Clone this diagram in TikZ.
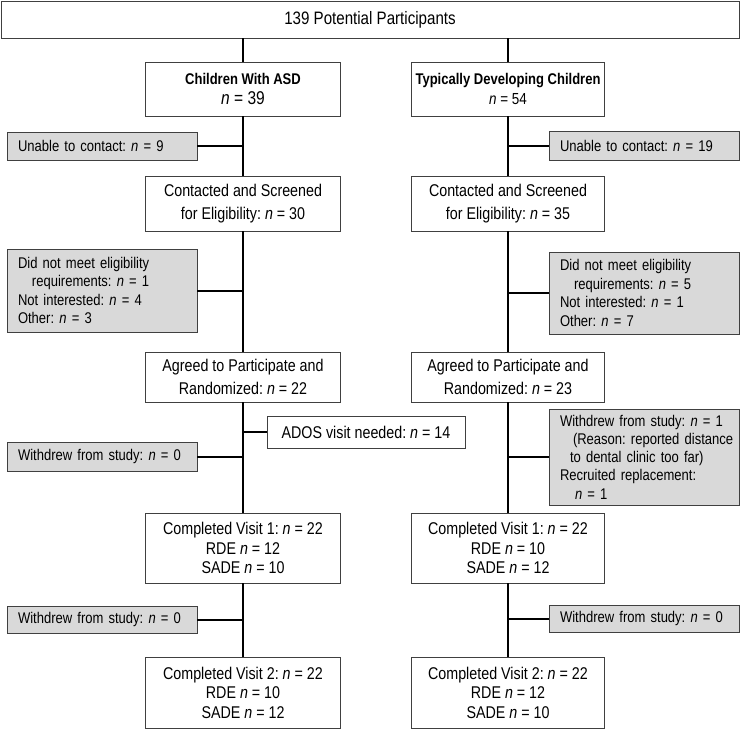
\documentclass[tikz,border=0pt]{standalone}
\usepackage{fontspec}
\setmainfont{Liberation Sans}[FakeStretch=0.84]
\begin{document}
\frenchspacing
\begin{tikzpicture}[x=1pt,y=-1pt,
  wbox/.style={draw=black!75, line width=0.9pt, fill=white, align=center, inner sep=0pt,
    minimum width=195pt, font=\fontsize{17}{22.7}\selectfont},
  gbox/.style={draw=black!75, line width=0.9pt, fill=black!15, align=left, inner xsep=11pt, inner ysep=0pt,
    text width=168pt, font=\fontsize{15.5}{18.6}\selectfont},
  conn/.style={line width=2pt}]
\useasboundingbox (0,0) rectangle (742,729);
% main boxes
\node[wbox, minimum width=738pt, minimum height=37pt, font=\fontsize{18}{20}\selectfont] (top) at (370,19.5) {139 Potential Participants};
\node[wbox, minimum height=54pt, font=\fontsize{16}{20.5}\selectfont] (asd) at (243,89)
  {{\bfseries\fontsize{15.5}{20.5}\selectfont Children With ASD}\\{\fontsize{18.5}{20.5}\selectfont\textit{n} = 39}};
\node[wbox, minimum width=193pt, minimum height=54pt, font=\fontsize{16}{20.5}\selectfont] (td) at (508,89)
  {{\bfseries\fontsize{15.5}{20.5}\selectfont Typically Developing Children}\\{\fontsize{16}{20.5}\selectfont\textit{n} = 54}};
\node[wbox, minimum height=55pt] (contL) at (243,203.5) {Contacted and Screened\\for Eligibility: \textit{n} = 30};
\node[wbox, minimum width=193pt, minimum height=55pt] (contR) at (508,203.5) {Contacted and Screened\\for Eligibility: \textit{n} = 35};
\node[wbox, minimum height=50pt] (agrL) at (243,377) {Agreed to Participate and\\Randomized: \textit{n} = 22};
\node[wbox, minimum width=193pt, minimum height=50pt] (agrR) at (508,377) {Agreed to Participate and\\Randomized: \textit{n} = 23};
\node[wbox, minimum height=70pt, font=\fontsize{17}{19.5}\selectfont] (cv1L) at (243,548) {Completed Visit 1: \textit{n} = 22\\RDE \textit{n} = 12\\SADE \textit{n} = 10};
\node[wbox, minimum width=193pt, minimum height=70pt, font=\fontsize{17}{19.5}\selectfont] (cv1R) at (508,548) {Completed Visit 1: \textit{n} = 22\\RDE \textit{n} = 10\\SADE \textit{n} = 12};
\node[wbox, minimum height=71pt, font=\fontsize{17}{19.5}\selectfont] (cv2L) at (243,692.5) {Completed Visit 2: \textit{n} = 22\\RDE \textit{n} = 10\\SADE \textit{n} = 12};
\node[wbox, minimum width=193pt, minimum height=71pt, font=\fontsize{17}{19.5}\selectfont] (cv2R) at (508,692.5) {Completed Visit 2: \textit{n} = 22\\RDE \textit{n} = 12\\SADE \textit{n} = 10};
\node[wbox, minimum width=198pt, minimum height=32pt] (ados) at (366,432) {ADOS visit needed: \textit{n} = 14};
% side boxes
\node[gbox, minimum height=28pt] (unL) at (102,146) {Unable to contact: \textit{n} = 9};
\node[gbox, minimum height=29pt] (unR) at (644,145.5) {Unable to contact: \textit{n} = 19};
\node[gbox, minimum height=83pt] (dnmL) at (102,290.5) {Did not meet eligibility\\\hspace*{14pt}requirements: \textit{n} = 1\\Not interested: \textit{n} = 4\\Other: \textit{n} = 3};
\node[gbox, minimum height=82pt] (dnmR) at (644,293) {Did not meet eligibility\\\hspace*{14pt}requirements: \textit{n} = 5\\Not interested: \textit{n} = 1\\Other: \textit{n} = 7};
\node[gbox, minimum height=29pt] (wdL1) at (102,456.5) {Withdrew from study: \textit{n} = 0};
\node[gbox, minimum height=96pt, font=\fontsize{15.5}{18.3}\selectfont] (wdR1) at (644,457)
  {Withdrew from study: \textit{n} = 1\\\mbox{\hspace*{13pt}(Reason: reported distance}\\\hspace*{10pt}to dental clinic too far)\\Recruited replacement:\\\hspace*{15pt}\textit{n} = 1};
\node[gbox, minimum height=27pt] (wdL2) at (102,619.5) {Withdrew from study: \textit{n} = 0};
\node[gbox, minimum height=27pt] (wdR2) at (644,618.5) {Withdrew from study: \textit{n} = 0};
% trunks
\draw[conn] (asd.north) -- (asd.north |- top.south);
\draw[conn] (td.north) -- (td.north |- top.south);
\draw[conn] (asd.south) -- (contL.north);
\draw[conn] (contL.south) -- (agrL.north);
\draw[conn] (agrL.south) -- (cv1L.north);
\draw[conn] (cv1L.south) -- (cv2L.north);
\draw[conn] (td.south) -- (contR.north);
\draw[conn] (contR.south) -- (agrR.north);
\draw[conn] (agrR.south) -- (cv1R.north);
\draw[conn] (cv1R.south) -- (cv2R.north);
% branches
\draw[conn] (unL.east) -- (unL.east -| asd.south);
\draw[conn] (dnmL.east) -- (dnmL.east -| asd.south);
\draw[conn] (wdL1.east) -- (wdL1.east -| asd.south);
\draw[conn] (wdL2.east) -- (wdL2.east -| asd.south);
\draw[conn] (ados.west) -- (ados.west -| asd.south);
\draw[conn] (unR.west) -- (unR.west -| td.south);
\draw[conn] (dnmR.west) -- (dnmR.west -| td.south);
\draw[conn] (wdR1.west) -- (wdR1.west -| td.south);
\draw[conn] (wdR2.west) -- (wdR2.west -| td.south);
\end{tikzpicture}
\end{document}
